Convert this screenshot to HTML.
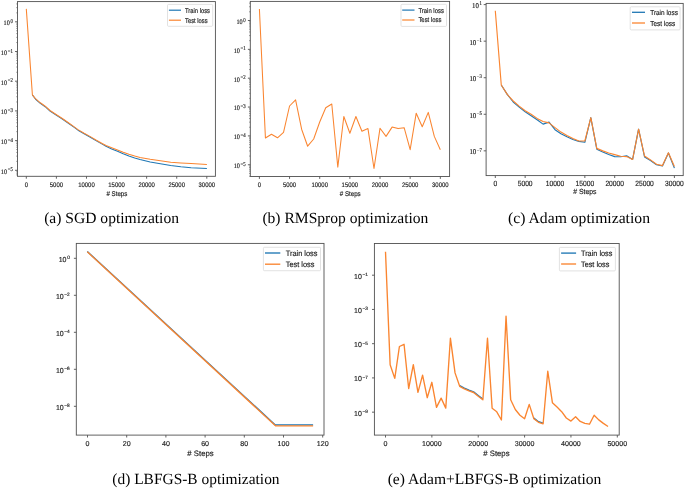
<!DOCTYPE html>
<html><head><meta charset="utf-8"><style>
html,body{margin:0;padding:0;background:#fff;width:685px;height:488px;overflow:hidden}
svg{display:block;will-change:transform;text-rendering:geometricPrecision}
</style></head><body>
<svg width="685" height="488" viewBox="0 0 685 488">
<rect width="685" height="488" fill="#fff"/>
<line x1="26.3" y1="176.3" x2="26.3" y2="178.7" stroke="#505050" stroke-width="0.9"/>
<text x="26.3" y="186.7" font-family="'Liberation Sans', sans-serif" font-size="6.6" text-anchor="middle" fill="#1a1a1a" textLength="3.3" lengthAdjust="spacingAndGlyphs" stroke="#1a1a1a" stroke-width="0.15">0</text>
<line x1="56.39" y1="176.3" x2="56.39" y2="178.7" stroke="#505050" stroke-width="0.9"/>
<text x="56.39" y="186.7" font-family="'Liberation Sans', sans-serif" font-size="6.6" text-anchor="middle" fill="#1a1a1a" textLength="13.21" lengthAdjust="spacingAndGlyphs" stroke="#1a1a1a" stroke-width="0.15">5000</text>
<line x1="86.47" y1="176.3" x2="86.47" y2="178.7" stroke="#505050" stroke-width="0.9"/>
<text x="86.47" y="186.7" font-family="'Liberation Sans', sans-serif" font-size="6.6" text-anchor="middle" fill="#1a1a1a" textLength="16.51" lengthAdjust="spacingAndGlyphs" stroke="#1a1a1a" stroke-width="0.15">10000</text>
<line x1="116.56" y1="176.3" x2="116.56" y2="178.7" stroke="#505050" stroke-width="0.9"/>
<text x="116.56" y="186.7" font-family="'Liberation Sans', sans-serif" font-size="6.6" text-anchor="middle" fill="#1a1a1a" textLength="16.51" lengthAdjust="spacingAndGlyphs" stroke="#1a1a1a" stroke-width="0.15">15000</text>
<line x1="146.64" y1="176.3" x2="146.64" y2="178.7" stroke="#505050" stroke-width="0.9"/>
<text x="146.64" y="186.7" font-family="'Liberation Sans', sans-serif" font-size="6.6" text-anchor="middle" fill="#1a1a1a" textLength="16.51" lengthAdjust="spacingAndGlyphs" stroke="#1a1a1a" stroke-width="0.15">20000</text>
<line x1="176.73" y1="176.3" x2="176.73" y2="178.7" stroke="#505050" stroke-width="0.9"/>
<text x="176.73" y="186.7" font-family="'Liberation Sans', sans-serif" font-size="6.6" text-anchor="middle" fill="#1a1a1a" textLength="16.51" lengthAdjust="spacingAndGlyphs" stroke="#1a1a1a" stroke-width="0.15">25000</text>
<line x1="206.81" y1="176.3" x2="206.81" y2="178.7" stroke="#505050" stroke-width="0.9"/>
<text x="206.81" y="186.7" font-family="'Liberation Sans', sans-serif" font-size="6.6" text-anchor="middle" fill="#1a1a1a" textLength="16.51" lengthAdjust="spacingAndGlyphs" stroke="#1a1a1a" stroke-width="0.15">30000</text>
<line x1="15.05" y1="21.8" x2="17.45" y2="21.8" stroke="#505050" stroke-width="0.9"/>
<text x="12.85" y="22.9" font-family="'Liberation Serif', serif" font-size="6" text-anchor="end" fill="#1a1a1a" stroke="#1a1a1a" stroke-width="0.15" textLength="2.4" lengthAdjust="spacingAndGlyphs">0</text>
<text x="9.75" y="25.1" font-family="'Liberation Serif', serif" font-size="6.9" text-anchor="end" fill="#1a1a1a" stroke="#1a1a1a" stroke-width="0.15" textLength="6.2" lengthAdjust="spacingAndGlyphs">10</text>
<line x1="15.05" y1="51.5" x2="17.45" y2="51.5" stroke="#505050" stroke-width="0.9"/>
<text x="12.85" y="52.6" font-family="'Liberation Serif', serif" font-size="6" text-anchor="end" fill="#1a1a1a" stroke="#1a1a1a" stroke-width="0.15" textLength="5.11" lengthAdjust="spacingAndGlyphs">&#8722;1</text>
<text x="7.04" y="54.8" font-family="'Liberation Serif', serif" font-size="6.9" text-anchor="end" fill="#1a1a1a" stroke="#1a1a1a" stroke-width="0.15" textLength="6.2" lengthAdjust="spacingAndGlyphs">10</text>
<line x1="15.05" y1="81.2" x2="17.45" y2="81.2" stroke="#505050" stroke-width="0.9"/>
<text x="12.85" y="82.3" font-family="'Liberation Serif', serif" font-size="6" text-anchor="end" fill="#1a1a1a" stroke="#1a1a1a" stroke-width="0.15" textLength="5.11" lengthAdjust="spacingAndGlyphs">&#8722;2</text>
<text x="7.04" y="84.5" font-family="'Liberation Serif', serif" font-size="6.9" text-anchor="end" fill="#1a1a1a" stroke="#1a1a1a" stroke-width="0.15" textLength="6.2" lengthAdjust="spacingAndGlyphs">10</text>
<line x1="15.05" y1="110.9" x2="17.45" y2="110.9" stroke="#505050" stroke-width="0.9"/>
<text x="12.85" y="112" font-family="'Liberation Serif', serif" font-size="6" text-anchor="end" fill="#1a1a1a" stroke="#1a1a1a" stroke-width="0.15" textLength="5.11" lengthAdjust="spacingAndGlyphs">&#8722;3</text>
<text x="7.04" y="114.2" font-family="'Liberation Serif', serif" font-size="6.9" text-anchor="end" fill="#1a1a1a" stroke="#1a1a1a" stroke-width="0.15" textLength="6.2" lengthAdjust="spacingAndGlyphs">10</text>
<line x1="15.05" y1="140.6" x2="17.45" y2="140.6" stroke="#505050" stroke-width="0.9"/>
<text x="12.85" y="141.7" font-family="'Liberation Serif', serif" font-size="6" text-anchor="end" fill="#1a1a1a" stroke="#1a1a1a" stroke-width="0.15" textLength="5.11" lengthAdjust="spacingAndGlyphs">&#8722;4</text>
<text x="7.04" y="143.9" font-family="'Liberation Serif', serif" font-size="6.9" text-anchor="end" fill="#1a1a1a" stroke="#1a1a1a" stroke-width="0.15" textLength="6.2" lengthAdjust="spacingAndGlyphs">10</text>
<line x1="15.05" y1="170.3" x2="17.45" y2="170.3" stroke="#505050" stroke-width="0.9"/>
<text x="12.85" y="171.4" font-family="'Liberation Serif', serif" font-size="6" text-anchor="end" fill="#1a1a1a" stroke="#1a1a1a" stroke-width="0.15" textLength="5.11" lengthAdjust="spacingAndGlyphs">&#8722;5</text>
<text x="7.04" y="173.6" font-family="'Liberation Serif', serif" font-size="6.9" text-anchor="end" fill="#1a1a1a" stroke="#1a1a1a" stroke-width="0.15" textLength="6.2" lengthAdjust="spacingAndGlyphs">10</text>
<line x1="16.25" y1="174.9" x2="17.45" y2="174.9" stroke="#505050" stroke-width="0.6"/>
<line x1="16.25" y1="173.18" x2="17.45" y2="173.18" stroke="#505050" stroke-width="0.6"/>
<line x1="16.25" y1="171.66" x2="17.45" y2="171.66" stroke="#505050" stroke-width="0.6"/>
<line x1="16.25" y1="161.36" x2="17.45" y2="161.36" stroke="#505050" stroke-width="0.6"/>
<line x1="16.25" y1="156.13" x2="17.45" y2="156.13" stroke="#505050" stroke-width="0.6"/>
<line x1="16.25" y1="152.42" x2="17.45" y2="152.42" stroke="#505050" stroke-width="0.6"/>
<line x1="16.25" y1="149.54" x2="17.45" y2="149.54" stroke="#505050" stroke-width="0.6"/>
<line x1="16.25" y1="147.19" x2="17.45" y2="147.19" stroke="#505050" stroke-width="0.6"/>
<line x1="16.25" y1="145.2" x2="17.45" y2="145.2" stroke="#505050" stroke-width="0.6"/>
<line x1="16.25" y1="143.48" x2="17.45" y2="143.48" stroke="#505050" stroke-width="0.6"/>
<line x1="16.25" y1="141.96" x2="17.45" y2="141.96" stroke="#505050" stroke-width="0.6"/>
<line x1="16.25" y1="131.66" x2="17.45" y2="131.66" stroke="#505050" stroke-width="0.6"/>
<line x1="16.25" y1="126.43" x2="17.45" y2="126.43" stroke="#505050" stroke-width="0.6"/>
<line x1="16.25" y1="122.72" x2="17.45" y2="122.72" stroke="#505050" stroke-width="0.6"/>
<line x1="16.25" y1="119.84" x2="17.45" y2="119.84" stroke="#505050" stroke-width="0.6"/>
<line x1="16.25" y1="117.49" x2="17.45" y2="117.49" stroke="#505050" stroke-width="0.6"/>
<line x1="16.25" y1="115.5" x2="17.45" y2="115.5" stroke="#505050" stroke-width="0.6"/>
<line x1="16.25" y1="113.78" x2="17.45" y2="113.78" stroke="#505050" stroke-width="0.6"/>
<line x1="16.25" y1="112.26" x2="17.45" y2="112.26" stroke="#505050" stroke-width="0.6"/>
<line x1="16.25" y1="101.96" x2="17.45" y2="101.96" stroke="#505050" stroke-width="0.6"/>
<line x1="16.25" y1="96.73" x2="17.45" y2="96.73" stroke="#505050" stroke-width="0.6"/>
<line x1="16.25" y1="93.02" x2="17.45" y2="93.02" stroke="#505050" stroke-width="0.6"/>
<line x1="16.25" y1="90.14" x2="17.45" y2="90.14" stroke="#505050" stroke-width="0.6"/>
<line x1="16.25" y1="87.79" x2="17.45" y2="87.79" stroke="#505050" stroke-width="0.6"/>
<line x1="16.25" y1="85.8" x2="17.45" y2="85.8" stroke="#505050" stroke-width="0.6"/>
<line x1="16.25" y1="84.08" x2="17.45" y2="84.08" stroke="#505050" stroke-width="0.6"/>
<line x1="16.25" y1="82.56" x2="17.45" y2="82.56" stroke="#505050" stroke-width="0.6"/>
<line x1="16.25" y1="72.26" x2="17.45" y2="72.26" stroke="#505050" stroke-width="0.6"/>
<line x1="16.25" y1="67.03" x2="17.45" y2="67.03" stroke="#505050" stroke-width="0.6"/>
<line x1="16.25" y1="63.32" x2="17.45" y2="63.32" stroke="#505050" stroke-width="0.6"/>
<line x1="16.25" y1="60.44" x2="17.45" y2="60.44" stroke="#505050" stroke-width="0.6"/>
<line x1="16.25" y1="58.09" x2="17.45" y2="58.09" stroke="#505050" stroke-width="0.6"/>
<line x1="16.25" y1="56.1" x2="17.45" y2="56.1" stroke="#505050" stroke-width="0.6"/>
<line x1="16.25" y1="54.38" x2="17.45" y2="54.38" stroke="#505050" stroke-width="0.6"/>
<line x1="16.25" y1="52.86" x2="17.45" y2="52.86" stroke="#505050" stroke-width="0.6"/>
<line x1="16.25" y1="42.56" x2="17.45" y2="42.56" stroke="#505050" stroke-width="0.6"/>
<line x1="16.25" y1="37.33" x2="17.45" y2="37.33" stroke="#505050" stroke-width="0.6"/>
<line x1="16.25" y1="33.62" x2="17.45" y2="33.62" stroke="#505050" stroke-width="0.6"/>
<line x1="16.25" y1="30.74" x2="17.45" y2="30.74" stroke="#505050" stroke-width="0.6"/>
<line x1="16.25" y1="28.39" x2="17.45" y2="28.39" stroke="#505050" stroke-width="0.6"/>
<line x1="16.25" y1="26.4" x2="17.45" y2="26.4" stroke="#505050" stroke-width="0.6"/>
<line x1="16.25" y1="24.68" x2="17.45" y2="24.68" stroke="#505050" stroke-width="0.6"/>
<line x1="16.25" y1="23.16" x2="17.45" y2="23.16" stroke="#505050" stroke-width="0.6"/>
<line x1="16.25" y1="12.86" x2="17.45" y2="12.86" stroke="#505050" stroke-width="0.6"/>
<line x1="16.25" y1="7.63" x2="17.45" y2="7.63" stroke="#505050" stroke-width="0.6"/>
<line x1="16.25" y1="3.92" x2="17.45" y2="3.92" stroke="#505050" stroke-width="0.6"/>
<polyline points="32.4,94.9 35.4,99 40.3,103.3 45.2,106.7 50,111 56.1,115 62.3,119 68.4,123.3 74.6,127.6 78,130.2 84.1,133.8 90.3,137.2 96.4,140.9 102.6,144.4 106,146.3 111.7,148.9 117.5,151.2 123.2,153.8 128.9,156.1 134.7,158.1 140,159.5 150.2,161.9 160.4,163.7 170.7,165.4 180.9,166.7 191.1,167.7 206.9,168.5" fill="none" stroke="#1f77b4" stroke-width="1.05" stroke-linejoin="round" stroke-linecap="butt"/>
<polyline points="26.3,8.9 32.4,94.9 35.4,98.6 40.3,102.8 45.2,106.2 50,110.5 56.1,114.5 62.3,118.5 68.4,122.8 74.6,127.1 78,129.6 84.1,133.2 90.3,136.6 96.4,140.3 102.6,143.7 106,145.5 111.7,147.7 117.5,150 123.2,152.3 128.9,154.3 134.7,156.1 140,157.4 150.2,159.3 160.4,160.8 170.7,162.2 180.9,162.9 191.1,163.6 206.9,164.4" fill="none" stroke="#fa8530" stroke-width="1.05" stroke-linejoin="round" stroke-linecap="butt"/>
<rect x="17.45" y="1.6" width="197.95" height="174.7" fill="none" stroke="#505050" stroke-width="0.9"/>
<rect x="167.5" y="4.4" width="45.2" height="21.9" rx="1" fill="#fff" fill-opacity="0.8" stroke="#d6d6d6" stroke-width="0.7"/>
<line x1="168.9" y1="10.2" x2="181" y2="10.2" stroke="#1f77b4" stroke-width="1.2"/>
<line x1="168.9" y1="20.2" x2="181" y2="20.2" stroke="#fa8530" stroke-width="1.2"/>
<text x="185" y="12.65" font-family="'Liberation Sans', sans-serif" font-size="6.8" text-anchor="start" fill="#1a1a1a" textLength="25" lengthAdjust="spacingAndGlyphs" stroke="#1a1a1a" stroke-width="0.15">Train loss</text>
<text x="185" y="22.65" font-family="'Liberation Sans', sans-serif" font-size="6.8" text-anchor="start" fill="#1a1a1a" textLength="22.63" lengthAdjust="spacingAndGlyphs" stroke="#1a1a1a" stroke-width="0.15">Test loss</text>
<text x="116.9" y="195.8" font-family="'Liberation Sans', sans-serif" font-size="6.9" text-anchor="middle" fill="#1a1a1a" textLength="20.9" lengthAdjust="spacingAndGlyphs" stroke="#1a1a1a" stroke-width="0.15"># Steps</text>
<text x="44.2" y="222.7" font-family="'Liberation Serif', serif" font-size="15.5" text-anchor="start" fill="#000" textLength="134.8" lengthAdjust="spacingAndGlyphs">(a) SGD optimization</text>
<line x1="259.4" y1="176.5" x2="259.4" y2="178.9" stroke="#505050" stroke-width="0.9"/>
<text x="259.4" y="186.7" font-family="'Liberation Sans', sans-serif" font-size="6.6" text-anchor="middle" fill="#1a1a1a" textLength="3.3" lengthAdjust="spacingAndGlyphs" stroke="#1a1a1a" stroke-width="0.15">0</text>
<line x1="289.55" y1="176.5" x2="289.55" y2="178.9" stroke="#505050" stroke-width="0.9"/>
<text x="289.55" y="186.7" font-family="'Liberation Sans', sans-serif" font-size="6.6" text-anchor="middle" fill="#1a1a1a" textLength="13.21" lengthAdjust="spacingAndGlyphs" stroke="#1a1a1a" stroke-width="0.15">5000</text>
<line x1="319.71" y1="176.5" x2="319.71" y2="178.9" stroke="#505050" stroke-width="0.9"/>
<text x="319.71" y="186.7" font-family="'Liberation Sans', sans-serif" font-size="6.6" text-anchor="middle" fill="#1a1a1a" textLength="16.51" lengthAdjust="spacingAndGlyphs" stroke="#1a1a1a" stroke-width="0.15">10000</text>
<line x1="349.87" y1="176.5" x2="349.87" y2="178.9" stroke="#505050" stroke-width="0.9"/>
<text x="349.87" y="186.7" font-family="'Liberation Sans', sans-serif" font-size="6.6" text-anchor="middle" fill="#1a1a1a" textLength="16.51" lengthAdjust="spacingAndGlyphs" stroke="#1a1a1a" stroke-width="0.15">15000</text>
<line x1="380.02" y1="176.5" x2="380.02" y2="178.9" stroke="#505050" stroke-width="0.9"/>
<text x="380.02" y="186.7" font-family="'Liberation Sans', sans-serif" font-size="6.6" text-anchor="middle" fill="#1a1a1a" textLength="16.51" lengthAdjust="spacingAndGlyphs" stroke="#1a1a1a" stroke-width="0.15">20000</text>
<line x1="410.17" y1="176.5" x2="410.17" y2="178.9" stroke="#505050" stroke-width="0.9"/>
<text x="410.17" y="186.7" font-family="'Liberation Sans', sans-serif" font-size="6.6" text-anchor="middle" fill="#1a1a1a" textLength="16.51" lengthAdjust="spacingAndGlyphs" stroke="#1a1a1a" stroke-width="0.15">25000</text>
<line x1="440.33" y1="176.5" x2="440.33" y2="178.9" stroke="#505050" stroke-width="0.9"/>
<text x="440.33" y="186.7" font-family="'Liberation Sans', sans-serif" font-size="6.6" text-anchor="middle" fill="#1a1a1a" textLength="16.51" lengthAdjust="spacingAndGlyphs" stroke="#1a1a1a" stroke-width="0.15">30000</text>
<line x1="247.9" y1="20.5" x2="250.3" y2="20.5" stroke="#505050" stroke-width="0.9"/>
<text x="245.7" y="21.6" font-family="'Liberation Serif', serif" font-size="6" text-anchor="end" fill="#1a1a1a" stroke="#1a1a1a" stroke-width="0.15" textLength="2.4" lengthAdjust="spacingAndGlyphs">0</text>
<text x="242.6" y="23.8" font-family="'Liberation Serif', serif" font-size="6.9" text-anchor="end" fill="#1a1a1a" stroke="#1a1a1a" stroke-width="0.15" textLength="6.2" lengthAdjust="spacingAndGlyphs">10</text>
<line x1="247.9" y1="49.35" x2="250.3" y2="49.35" stroke="#505050" stroke-width="0.9"/>
<text x="245.7" y="50.45" font-family="'Liberation Serif', serif" font-size="6" text-anchor="end" fill="#1a1a1a" stroke="#1a1a1a" stroke-width="0.15" textLength="5.11" lengthAdjust="spacingAndGlyphs">&#8722;1</text>
<text x="239.89" y="52.65" font-family="'Liberation Serif', serif" font-size="6.9" text-anchor="end" fill="#1a1a1a" stroke="#1a1a1a" stroke-width="0.15" textLength="6.2" lengthAdjust="spacingAndGlyphs">10</text>
<line x1="247.9" y1="78.2" x2="250.3" y2="78.2" stroke="#505050" stroke-width="0.9"/>
<text x="245.7" y="79.3" font-family="'Liberation Serif', serif" font-size="6" text-anchor="end" fill="#1a1a1a" stroke="#1a1a1a" stroke-width="0.15" textLength="5.11" lengthAdjust="spacingAndGlyphs">&#8722;2</text>
<text x="239.89" y="81.5" font-family="'Liberation Serif', serif" font-size="6.9" text-anchor="end" fill="#1a1a1a" stroke="#1a1a1a" stroke-width="0.15" textLength="6.2" lengthAdjust="spacingAndGlyphs">10</text>
<line x1="247.9" y1="107.05" x2="250.3" y2="107.05" stroke="#505050" stroke-width="0.9"/>
<text x="245.7" y="108.15" font-family="'Liberation Serif', serif" font-size="6" text-anchor="end" fill="#1a1a1a" stroke="#1a1a1a" stroke-width="0.15" textLength="5.11" lengthAdjust="spacingAndGlyphs">&#8722;3</text>
<text x="239.89" y="110.35" font-family="'Liberation Serif', serif" font-size="6.9" text-anchor="end" fill="#1a1a1a" stroke="#1a1a1a" stroke-width="0.15" textLength="6.2" lengthAdjust="spacingAndGlyphs">10</text>
<line x1="247.9" y1="135.9" x2="250.3" y2="135.9" stroke="#505050" stroke-width="0.9"/>
<text x="245.7" y="137" font-family="'Liberation Serif', serif" font-size="6" text-anchor="end" fill="#1a1a1a" stroke="#1a1a1a" stroke-width="0.15" textLength="5.11" lengthAdjust="spacingAndGlyphs">&#8722;4</text>
<text x="239.89" y="139.2" font-family="'Liberation Serif', serif" font-size="6.9" text-anchor="end" fill="#1a1a1a" stroke="#1a1a1a" stroke-width="0.15" textLength="6.2" lengthAdjust="spacingAndGlyphs">10</text>
<line x1="247.9" y1="164.75" x2="250.3" y2="164.75" stroke="#505050" stroke-width="0.9"/>
<text x="245.7" y="165.85" font-family="'Liberation Serif', serif" font-size="6" text-anchor="end" fill="#1a1a1a" stroke="#1a1a1a" stroke-width="0.15" textLength="5.11" lengthAdjust="spacingAndGlyphs">&#8722;5</text>
<text x="239.89" y="168.05" font-family="'Liberation Serif', serif" font-size="6.9" text-anchor="end" fill="#1a1a1a" stroke="#1a1a1a" stroke-width="0.15" textLength="6.2" lengthAdjust="spacingAndGlyphs">10</text>
<line x1="249.1" y1="176.23" x2="250.3" y2="176.23" stroke="#505050" stroke-width="0.6"/>
<line x1="249.1" y1="173.43" x2="250.3" y2="173.43" stroke="#505050" stroke-width="0.6"/>
<line x1="249.1" y1="171.15" x2="250.3" y2="171.15" stroke="#505050" stroke-width="0.6"/>
<line x1="249.1" y1="169.22" x2="250.3" y2="169.22" stroke="#505050" stroke-width="0.6"/>
<line x1="249.1" y1="167.55" x2="250.3" y2="167.55" stroke="#505050" stroke-width="0.6"/>
<line x1="249.1" y1="166.07" x2="250.3" y2="166.07" stroke="#505050" stroke-width="0.6"/>
<line x1="249.1" y1="156.07" x2="250.3" y2="156.07" stroke="#505050" stroke-width="0.6"/>
<line x1="249.1" y1="150.99" x2="250.3" y2="150.99" stroke="#505050" stroke-width="0.6"/>
<line x1="249.1" y1="147.38" x2="250.3" y2="147.38" stroke="#505050" stroke-width="0.6"/>
<line x1="249.1" y1="144.58" x2="250.3" y2="144.58" stroke="#505050" stroke-width="0.6"/>
<line x1="249.1" y1="142.3" x2="250.3" y2="142.3" stroke="#505050" stroke-width="0.6"/>
<line x1="249.1" y1="140.37" x2="250.3" y2="140.37" stroke="#505050" stroke-width="0.6"/>
<line x1="249.1" y1="138.7" x2="250.3" y2="138.7" stroke="#505050" stroke-width="0.6"/>
<line x1="249.1" y1="137.22" x2="250.3" y2="137.22" stroke="#505050" stroke-width="0.6"/>
<line x1="249.1" y1="127.22" x2="250.3" y2="127.22" stroke="#505050" stroke-width="0.6"/>
<line x1="249.1" y1="122.14" x2="250.3" y2="122.14" stroke="#505050" stroke-width="0.6"/>
<line x1="249.1" y1="118.53" x2="250.3" y2="118.53" stroke="#505050" stroke-width="0.6"/>
<line x1="249.1" y1="115.73" x2="250.3" y2="115.73" stroke="#505050" stroke-width="0.6"/>
<line x1="249.1" y1="113.45" x2="250.3" y2="113.45" stroke="#505050" stroke-width="0.6"/>
<line x1="249.1" y1="111.52" x2="250.3" y2="111.52" stroke="#505050" stroke-width="0.6"/>
<line x1="249.1" y1="109.85" x2="250.3" y2="109.85" stroke="#505050" stroke-width="0.6"/>
<line x1="249.1" y1="108.37" x2="250.3" y2="108.37" stroke="#505050" stroke-width="0.6"/>
<line x1="249.1" y1="98.37" x2="250.3" y2="98.37" stroke="#505050" stroke-width="0.6"/>
<line x1="249.1" y1="93.29" x2="250.3" y2="93.29" stroke="#505050" stroke-width="0.6"/>
<line x1="249.1" y1="89.68" x2="250.3" y2="89.68" stroke="#505050" stroke-width="0.6"/>
<line x1="249.1" y1="86.88" x2="250.3" y2="86.88" stroke="#505050" stroke-width="0.6"/>
<line x1="249.1" y1="84.6" x2="250.3" y2="84.6" stroke="#505050" stroke-width="0.6"/>
<line x1="249.1" y1="82.67" x2="250.3" y2="82.67" stroke="#505050" stroke-width="0.6"/>
<line x1="249.1" y1="81" x2="250.3" y2="81" stroke="#505050" stroke-width="0.6"/>
<line x1="249.1" y1="79.52" x2="250.3" y2="79.52" stroke="#505050" stroke-width="0.6"/>
<line x1="249.1" y1="69.52" x2="250.3" y2="69.52" stroke="#505050" stroke-width="0.6"/>
<line x1="249.1" y1="64.44" x2="250.3" y2="64.44" stroke="#505050" stroke-width="0.6"/>
<line x1="249.1" y1="60.83" x2="250.3" y2="60.83" stroke="#505050" stroke-width="0.6"/>
<line x1="249.1" y1="58.03" x2="250.3" y2="58.03" stroke="#505050" stroke-width="0.6"/>
<line x1="249.1" y1="55.75" x2="250.3" y2="55.75" stroke="#505050" stroke-width="0.6"/>
<line x1="249.1" y1="53.82" x2="250.3" y2="53.82" stroke="#505050" stroke-width="0.6"/>
<line x1="249.1" y1="52.15" x2="250.3" y2="52.15" stroke="#505050" stroke-width="0.6"/>
<line x1="249.1" y1="50.67" x2="250.3" y2="50.67" stroke="#505050" stroke-width="0.6"/>
<line x1="249.1" y1="40.67" x2="250.3" y2="40.67" stroke="#505050" stroke-width="0.6"/>
<line x1="249.1" y1="35.59" x2="250.3" y2="35.59" stroke="#505050" stroke-width="0.6"/>
<line x1="249.1" y1="31.98" x2="250.3" y2="31.98" stroke="#505050" stroke-width="0.6"/>
<line x1="249.1" y1="29.18" x2="250.3" y2="29.18" stroke="#505050" stroke-width="0.6"/>
<line x1="249.1" y1="26.9" x2="250.3" y2="26.9" stroke="#505050" stroke-width="0.6"/>
<line x1="249.1" y1="24.97" x2="250.3" y2="24.97" stroke="#505050" stroke-width="0.6"/>
<line x1="249.1" y1="23.3" x2="250.3" y2="23.3" stroke="#505050" stroke-width="0.6"/>
<line x1="249.1" y1="21.82" x2="250.3" y2="21.82" stroke="#505050" stroke-width="0.6"/>
<line x1="249.1" y1="11.82" x2="250.3" y2="11.82" stroke="#505050" stroke-width="0.6"/>
<line x1="249.1" y1="6.74" x2="250.3" y2="6.74" stroke="#505050" stroke-width="0.6"/>
<line x1="249.1" y1="3.13" x2="250.3" y2="3.13" stroke="#505050" stroke-width="0.6"/>
<polyline points="259.4,8.9 265.43,138 271.46,134.3 277.49,137.8 283.52,132.3 289.55,106 295.59,99.9 301.62,129.2 307.65,146.2 313.68,139 319.71,122 325.74,107.7 331.77,104 337.8,167.1 343.83,116.5 349.86,133.3 355.9,116.5 361.93,131.2 367.96,128.6 373.99,168.5 380.02,128.2 386.05,136.4 392.08,127.1 398.11,128.6 404.14,127.7 410.17,149.7 416.21,113.2 422.24,126.7 428.27,112.4 434.3,136.4 440.33,149.7" fill="none" stroke="#fa8530" stroke-width="1.05" stroke-linejoin="round" stroke-linecap="butt"/>
<rect x="250.3" y="1.4" width="199.3" height="175.1" fill="none" stroke="#505050" stroke-width="0.9"/>
<rect x="401" y="4.3" width="45.5" height="22.1" rx="1" fill="#fff" fill-opacity="0.8" stroke="#d6d6d6" stroke-width="0.7"/>
<line x1="402.2" y1="10.1" x2="414.5" y2="10.1" stroke="#1f77b4" stroke-width="1.2"/>
<line x1="402.2" y1="20" x2="414.5" y2="20" stroke="#fa8530" stroke-width="1.2"/>
<text x="418.4" y="12.55" font-family="'Liberation Sans', sans-serif" font-size="6.8" text-anchor="start" fill="#1a1a1a" textLength="25.5" lengthAdjust="spacingAndGlyphs" stroke="#1a1a1a" stroke-width="0.15">Train loss</text>
<text x="418.4" y="22.45" font-family="'Liberation Sans', sans-serif" font-size="6.8" text-anchor="start" fill="#1a1a1a" textLength="23.08" lengthAdjust="spacingAndGlyphs" stroke="#1a1a1a" stroke-width="0.15">Test loss</text>
<text x="350.2" y="195.9" font-family="'Liberation Sans', sans-serif" font-size="6.9" text-anchor="middle" fill="#1a1a1a" textLength="20.9" lengthAdjust="spacingAndGlyphs" stroke="#1a1a1a" stroke-width="0.15"># Steps</text>
<text x="262.4" y="222.8" font-family="'Liberation Serif', serif" font-size="15.5" text-anchor="start" fill="#000" textLength="166" lengthAdjust="spacingAndGlyphs">(b) RMSprop optimization</text>
<line x1="495.3" y1="175.6" x2="495.3" y2="178" stroke="#505050" stroke-width="0.9"/>
<text x="495.3" y="185.9" font-family="'Liberation Sans', sans-serif" font-size="7.6" text-anchor="middle" fill="#1a1a1a" textLength="3.72" lengthAdjust="spacingAndGlyphs" stroke="#1a1a1a" stroke-width="0.15">0</text>
<line x1="525.15" y1="175.6" x2="525.15" y2="178" stroke="#505050" stroke-width="0.9"/>
<text x="525.15" y="185.9" font-family="'Liberation Sans', sans-serif" font-size="7.6" text-anchor="middle" fill="#1a1a1a" textLength="14.87" lengthAdjust="spacingAndGlyphs" stroke="#1a1a1a" stroke-width="0.15">5000</text>
<line x1="555" y1="175.6" x2="555" y2="178" stroke="#505050" stroke-width="0.9"/>
<text x="555" y="185.9" font-family="'Liberation Sans', sans-serif" font-size="7.6" text-anchor="middle" fill="#1a1a1a" textLength="18.59" lengthAdjust="spacingAndGlyphs" stroke="#1a1a1a" stroke-width="0.15">10000</text>
<line x1="584.85" y1="175.6" x2="584.85" y2="178" stroke="#505050" stroke-width="0.9"/>
<text x="584.85" y="185.9" font-family="'Liberation Sans', sans-serif" font-size="7.6" text-anchor="middle" fill="#1a1a1a" textLength="18.59" lengthAdjust="spacingAndGlyphs" stroke="#1a1a1a" stroke-width="0.15">15000</text>
<line x1="614.7" y1="175.6" x2="614.7" y2="178" stroke="#505050" stroke-width="0.9"/>
<text x="614.7" y="185.9" font-family="'Liberation Sans', sans-serif" font-size="7.6" text-anchor="middle" fill="#1a1a1a" textLength="18.59" lengthAdjust="spacingAndGlyphs" stroke="#1a1a1a" stroke-width="0.15">20000</text>
<line x1="644.55" y1="175.6" x2="644.55" y2="178" stroke="#505050" stroke-width="0.9"/>
<text x="644.55" y="185.9" font-family="'Liberation Sans', sans-serif" font-size="7.6" text-anchor="middle" fill="#1a1a1a" textLength="18.59" lengthAdjust="spacingAndGlyphs" stroke="#1a1a1a" stroke-width="0.15">25000</text>
<line x1="674.4" y1="175.6" x2="674.4" y2="178" stroke="#505050" stroke-width="0.9"/>
<text x="674.4" y="185.9" font-family="'Liberation Sans', sans-serif" font-size="7.6" text-anchor="middle" fill="#1a1a1a" textLength="18.59" lengthAdjust="spacingAndGlyphs" stroke="#1a1a1a" stroke-width="0.15">30000</text>
<line x1="483.7" y1="4.6" x2="486.1" y2="4.6" stroke="#505050" stroke-width="0.9"/>
<text x="481.8" y="5.3" font-family="'Liberation Serif', serif" font-size="5.6" text-anchor="end" fill="#1a1a1a" stroke="#1a1a1a" stroke-width="0.15" textLength="2.38" lengthAdjust="spacingAndGlyphs">1</text>
<text x="478.92" y="8" font-family="'Liberation Serif', serif" font-size="7.4" text-anchor="end" fill="#1a1a1a" stroke="#1a1a1a" stroke-width="0.15" textLength="6.8" lengthAdjust="spacingAndGlyphs">10</text>
<line x1="483.7" y1="41.16" x2="486.1" y2="41.16" stroke="#505050" stroke-width="0.9"/>
<text x="481.8" y="41.86" font-family="'Liberation Serif', serif" font-size="5.6" text-anchor="end" fill="#1a1a1a" stroke="#1a1a1a" stroke-width="0.15" textLength="5.06" lengthAdjust="spacingAndGlyphs">&#8722;1</text>
<text x="476.24" y="44.56" font-family="'Liberation Serif', serif" font-size="7.4" text-anchor="end" fill="#1a1a1a" stroke="#1a1a1a" stroke-width="0.15" textLength="6.8" lengthAdjust="spacingAndGlyphs">10</text>
<line x1="483.7" y1="77.72" x2="486.1" y2="77.72" stroke="#505050" stroke-width="0.9"/>
<text x="481.8" y="78.42" font-family="'Liberation Serif', serif" font-size="5.6" text-anchor="end" fill="#1a1a1a" stroke="#1a1a1a" stroke-width="0.15" textLength="5.06" lengthAdjust="spacingAndGlyphs">&#8722;3</text>
<text x="476.24" y="81.12" font-family="'Liberation Serif', serif" font-size="7.4" text-anchor="end" fill="#1a1a1a" stroke="#1a1a1a" stroke-width="0.15" textLength="6.8" lengthAdjust="spacingAndGlyphs">10</text>
<line x1="483.7" y1="114.28" x2="486.1" y2="114.28" stroke="#505050" stroke-width="0.9"/>
<text x="481.8" y="114.98" font-family="'Liberation Serif', serif" font-size="5.6" text-anchor="end" fill="#1a1a1a" stroke="#1a1a1a" stroke-width="0.15" textLength="5.06" lengthAdjust="spacingAndGlyphs">&#8722;5</text>
<text x="476.24" y="117.68" font-family="'Liberation Serif', serif" font-size="7.4" text-anchor="end" fill="#1a1a1a" stroke="#1a1a1a" stroke-width="0.15" textLength="6.8" lengthAdjust="spacingAndGlyphs">10</text>
<line x1="483.7" y1="150.84" x2="486.1" y2="150.84" stroke="#505050" stroke-width="0.9"/>
<text x="481.8" y="151.54" font-family="'Liberation Serif', serif" font-size="5.6" text-anchor="end" fill="#1a1a1a" stroke="#1a1a1a" stroke-width="0.15" textLength="5.06" lengthAdjust="spacingAndGlyphs">&#8722;7</text>
<text x="476.24" y="154.24" font-family="'Liberation Serif', serif" font-size="7.4" text-anchor="end" fill="#1a1a1a" stroke="#1a1a1a" stroke-width="0.15" textLength="6.8" lengthAdjust="spacingAndGlyphs">10</text>
<polyline points="501.27,85 507.24,94.4 513.21,102 519.18,107.1 525.15,111.8 531.12,115.7 537.09,119.8 543.06,124.1 549.03,122.1 555,129.7 560.97,133.8 566.94,136.8 572.91,139.5 578.88,141.4 584.85,142.3 590.82,117.7 596.79,149.2 602.76,152 608.73,154.5 614.7,156.6 620.67,156.8 626.64,155.8 632.61,159.4 638.58,129.2 644.55,157 650.52,160.5 656.49,164.8 662.46,166 668.43,153 674.4,168.1" fill="none" stroke="#1f77b4" stroke-width="1.15" stroke-linejoin="round" stroke-linecap="butt"/>
<polyline points="495.3,10.8 501.27,85 507.24,94.4 513.21,101 519.18,106.1 525.15,110.8 531.12,114.3 537.09,118.4 543.06,121.5 549.03,122.9 555,127.6 560.97,132.1 566.94,135.4 572.91,138.5 578.88,141 584.85,141 590.82,117.7 596.79,148.4 602.76,150.9 608.73,153 614.7,154.6 620.67,156.3 626.64,156.6 632.61,159.4 638.58,129.2 644.55,156.1 650.52,159.9 656.49,164.3 662.46,165.6 668.43,152.8 674.4,166.4" fill="none" stroke="#fa8530" stroke-width="1.15" stroke-linejoin="round" stroke-linecap="butt"/>
<rect x="486.1" y="3.4" width="197.1" height="172.2" fill="none" stroke="#505050" stroke-width="0.9"/>
<rect x="630.2" y="6.8" width="49.9" height="23.1" rx="1" fill="#fff" fill-opacity="0.8" stroke="#d6d6d6" stroke-width="0.7"/>
<line x1="632" y1="12.3" x2="645" y2="12.3" stroke="#1f77b4" stroke-width="1.3"/>
<line x1="632" y1="23" x2="645" y2="23" stroke="#fa8530" stroke-width="1.3"/>
<text x="650.2" y="14.89" font-family="'Liberation Sans', sans-serif" font-size="7.2" text-anchor="start" fill="#1a1a1a" textLength="27.7" lengthAdjust="spacingAndGlyphs" stroke="#1a1a1a" stroke-width="0.15">Train loss</text>
<text x="650.2" y="25.59" font-family="'Liberation Sans', sans-serif" font-size="7.2" text-anchor="start" fill="#1a1a1a" textLength="25.08" lengthAdjust="spacingAndGlyphs" stroke="#1a1a1a" stroke-width="0.15">Test loss</text>
<text x="584.9" y="194.4" font-family="'Liberation Sans', sans-serif" font-size="7.4" text-anchor="middle" fill="#1a1a1a" textLength="23.2" lengthAdjust="spacingAndGlyphs" stroke="#1a1a1a" stroke-width="0.15"># Steps</text>
<text x="508.1" y="222.8" font-family="'Liberation Serif', serif" font-size="15.5" text-anchor="start" fill="#000" textLength="141.9" lengthAdjust="spacingAndGlyphs">(c) Adam optimization</text>
<line x1="87.5" y1="435.1" x2="87.5" y2="437.5" stroke="#505050" stroke-width="0.9"/>
<text x="87.5" y="446.2" font-family="'Liberation Sans', sans-serif" font-size="7.1" text-anchor="middle" fill="#1a1a1a" textLength="3.95" lengthAdjust="spacingAndGlyphs" stroke="#1a1a1a" stroke-width="0.15">0</text>
<line x1="126.7" y1="435.1" x2="126.7" y2="437.5" stroke="#505050" stroke-width="0.9"/>
<text x="126.7" y="446.2" font-family="'Liberation Sans', sans-serif" font-size="7.1" text-anchor="middle" fill="#1a1a1a" textLength="7.9" lengthAdjust="spacingAndGlyphs" stroke="#1a1a1a" stroke-width="0.15">20</text>
<line x1="165.9" y1="435.1" x2="165.9" y2="437.5" stroke="#505050" stroke-width="0.9"/>
<text x="165.9" y="446.2" font-family="'Liberation Sans', sans-serif" font-size="7.1" text-anchor="middle" fill="#1a1a1a" textLength="7.9" lengthAdjust="spacingAndGlyphs" stroke="#1a1a1a" stroke-width="0.15">40</text>
<line x1="205.1" y1="435.1" x2="205.1" y2="437.5" stroke="#505050" stroke-width="0.9"/>
<text x="205.1" y="446.2" font-family="'Liberation Sans', sans-serif" font-size="7.1" text-anchor="middle" fill="#1a1a1a" textLength="7.9" lengthAdjust="spacingAndGlyphs" stroke="#1a1a1a" stroke-width="0.15">60</text>
<line x1="244.3" y1="435.1" x2="244.3" y2="437.5" stroke="#505050" stroke-width="0.9"/>
<text x="244.3" y="446.2" font-family="'Liberation Sans', sans-serif" font-size="7.1" text-anchor="middle" fill="#1a1a1a" textLength="7.9" lengthAdjust="spacingAndGlyphs" stroke="#1a1a1a" stroke-width="0.15">80</text>
<line x1="283.5" y1="435.1" x2="283.5" y2="437.5" stroke="#505050" stroke-width="0.9"/>
<text x="283.5" y="446.2" font-family="'Liberation Sans', sans-serif" font-size="7.1" text-anchor="middle" fill="#1a1a1a" textLength="11.84" lengthAdjust="spacingAndGlyphs" stroke="#1a1a1a" stroke-width="0.15">100</text>
<line x1="322.7" y1="435.1" x2="322.7" y2="437.5" stroke="#505050" stroke-width="0.9"/>
<text x="322.7" y="446.2" font-family="'Liberation Sans', sans-serif" font-size="7.1" text-anchor="middle" fill="#1a1a1a" textLength="11.84" lengthAdjust="spacingAndGlyphs" stroke="#1a1a1a" stroke-width="0.15">120</text>
<line x1="73.9" y1="258.3" x2="76.3" y2="258.3" stroke="#505050" stroke-width="0.9"/>
<text x="69.8" y="259.2" font-family="'Liberation Sans', sans-serif" font-size="4.8" text-anchor="end" fill="#1a1a1a" stroke="#1a1a1a" stroke-width="0.15" textLength="2.67" lengthAdjust="spacingAndGlyphs">0</text>
<text x="66.53" y="261.8" font-family="'Liberation Sans', sans-serif" font-size="7.3" text-anchor="end" fill="#1a1a1a" stroke="#1a1a1a" stroke-width="0.15" textLength="7.8" lengthAdjust="spacingAndGlyphs">10</text>
<line x1="73.9" y1="295.3" x2="76.3" y2="295.3" stroke="#505050" stroke-width="0.9"/>
<text x="69.8" y="296.2" font-family="'Liberation Sans', sans-serif" font-size="4.8" text-anchor="end" fill="#1a1a1a" stroke="#1a1a1a" stroke-width="0.15" textLength="5.47" lengthAdjust="spacingAndGlyphs">&#8722;2</text>
<text x="63.73" y="298.8" font-family="'Liberation Sans', sans-serif" font-size="7.3" text-anchor="end" fill="#1a1a1a" stroke="#1a1a1a" stroke-width="0.15" textLength="7.8" lengthAdjust="spacingAndGlyphs">10</text>
<line x1="73.9" y1="332.3" x2="76.3" y2="332.3" stroke="#505050" stroke-width="0.9"/>
<text x="69.8" y="333.2" font-family="'Liberation Sans', sans-serif" font-size="4.8" text-anchor="end" fill="#1a1a1a" stroke="#1a1a1a" stroke-width="0.15" textLength="5.47" lengthAdjust="spacingAndGlyphs">&#8722;4</text>
<text x="63.73" y="335.8" font-family="'Liberation Sans', sans-serif" font-size="7.3" text-anchor="end" fill="#1a1a1a" stroke="#1a1a1a" stroke-width="0.15" textLength="7.8" lengthAdjust="spacingAndGlyphs">10</text>
<line x1="73.9" y1="369.3" x2="76.3" y2="369.3" stroke="#505050" stroke-width="0.9"/>
<text x="69.8" y="370.2" font-family="'Liberation Sans', sans-serif" font-size="4.8" text-anchor="end" fill="#1a1a1a" stroke="#1a1a1a" stroke-width="0.15" textLength="5.47" lengthAdjust="spacingAndGlyphs">&#8722;6</text>
<text x="63.73" y="372.8" font-family="'Liberation Sans', sans-serif" font-size="7.3" text-anchor="end" fill="#1a1a1a" stroke="#1a1a1a" stroke-width="0.15" textLength="7.8" lengthAdjust="spacingAndGlyphs">10</text>
<line x1="73.9" y1="406.3" x2="76.3" y2="406.3" stroke="#505050" stroke-width="0.9"/>
<text x="69.8" y="407.2" font-family="'Liberation Sans', sans-serif" font-size="4.8" text-anchor="end" fill="#1a1a1a" stroke="#1a1a1a" stroke-width="0.15" textLength="5.47" lengthAdjust="spacingAndGlyphs">&#8722;8</text>
<text x="63.73" y="409.8" font-family="'Liberation Sans', sans-serif" font-size="7.3" text-anchor="end" fill="#1a1a1a" stroke="#1a1a1a" stroke-width="0.15" textLength="7.8" lengthAdjust="spacingAndGlyphs">10</text>
<polyline points="87.3,251.5 275.3,424.9 313.1,424.9" fill="none" stroke="#1f77b4" stroke-width="1.35" stroke-linejoin="round" stroke-linecap="butt"/>
<polyline points="87.3,251.8 275.5,425.8 313.1,425.8" fill="none" stroke="#fa8530" stroke-width="1.35" stroke-linejoin="round" stroke-linecap="butt"/>
<rect x="76.3" y="243.4" width="247.7" height="191.7" fill="none" stroke="#505050" stroke-width="0.9"/>
<rect x="263.4" y="247.3" width="57.1" height="23.4" rx="1" fill="#fff" fill-opacity="0.8" stroke="#d6d6d6" stroke-width="0.7"/>
<line x1="265" y1="253" x2="280.3" y2="253" stroke="#1f77b4" stroke-width="1.35"/>
<line x1="265" y1="264.2" x2="280.3" y2="264.2" stroke="#fa8530" stroke-width="1.35"/>
<text x="285.7" y="255.81" font-family="'Liberation Sans', sans-serif" font-size="7.8" text-anchor="start" fill="#1a1a1a" textLength="31.8" lengthAdjust="spacingAndGlyphs" stroke="#1a1a1a" stroke-width="0.15">Train loss</text>
<text x="285.7" y="267.01" font-family="'Liberation Sans', sans-serif" font-size="7.8" text-anchor="start" fill="#1a1a1a" textLength="28.79" lengthAdjust="spacingAndGlyphs" stroke="#1a1a1a" stroke-width="0.15">Test loss</text>
<text x="200.5" y="456.3" font-family="'Liberation Sans', sans-serif" font-size="7.8" text-anchor="middle" fill="#1a1a1a" textLength="26.3" lengthAdjust="spacingAndGlyphs" stroke="#1a1a1a" stroke-width="0.15"># Steps</text>
<text x="112.3" y="484" font-family="'Liberation Serif', serif" font-size="15.5" text-anchor="start" fill="#000" textLength="167.3" lengthAdjust="spacingAndGlyphs">(d) LBFGS-B optimization</text>
<line x1="385.5" y1="435.1" x2="385.5" y2="437.5" stroke="#505050" stroke-width="0.9"/>
<text x="385.5" y="446" font-family="'Liberation Sans', sans-serif" font-size="7.1" text-anchor="middle" fill="#1a1a1a" textLength="3.95" lengthAdjust="spacingAndGlyphs" stroke="#1a1a1a" stroke-width="0.15">0</text>
<line x1="431.86" y1="435.1" x2="431.86" y2="437.5" stroke="#505050" stroke-width="0.9"/>
<text x="431.86" y="446" font-family="'Liberation Sans', sans-serif" font-size="7.1" text-anchor="middle" fill="#1a1a1a" textLength="19.74" lengthAdjust="spacingAndGlyphs" stroke="#1a1a1a" stroke-width="0.15">10000</text>
<line x1="478.22" y1="435.1" x2="478.22" y2="437.5" stroke="#505050" stroke-width="0.9"/>
<text x="478.22" y="446" font-family="'Liberation Sans', sans-serif" font-size="7.1" text-anchor="middle" fill="#1a1a1a" textLength="19.74" lengthAdjust="spacingAndGlyphs" stroke="#1a1a1a" stroke-width="0.15">20000</text>
<line x1="524.58" y1="435.1" x2="524.58" y2="437.5" stroke="#505050" stroke-width="0.9"/>
<text x="524.58" y="446" font-family="'Liberation Sans', sans-serif" font-size="7.1" text-anchor="middle" fill="#1a1a1a" textLength="19.74" lengthAdjust="spacingAndGlyphs" stroke="#1a1a1a" stroke-width="0.15">30000</text>
<line x1="570.94" y1="435.1" x2="570.94" y2="437.5" stroke="#505050" stroke-width="0.9"/>
<text x="570.94" y="446" font-family="'Liberation Sans', sans-serif" font-size="7.1" text-anchor="middle" fill="#1a1a1a" textLength="19.74" lengthAdjust="spacingAndGlyphs" stroke="#1a1a1a" stroke-width="0.15">40000</text>
<line x1="617.3" y1="435.1" x2="617.3" y2="437.5" stroke="#505050" stroke-width="0.9"/>
<text x="617.3" y="446" font-family="'Liberation Sans', sans-serif" font-size="7.1" text-anchor="middle" fill="#1a1a1a" textLength="19.74" lengthAdjust="spacingAndGlyphs" stroke="#1a1a1a" stroke-width="0.15">50000</text>
<line x1="372" y1="275.2" x2="374.4" y2="275.2" stroke="#505050" stroke-width="0.9"/>
<text x="367.9" y="276.1" font-family="'Liberation Sans', sans-serif" font-size="4.8" text-anchor="end" fill="#1a1a1a" stroke="#1a1a1a" stroke-width="0.15" textLength="5.47" lengthAdjust="spacingAndGlyphs">&#8722;1</text>
<text x="361.83" y="278.7" font-family="'Liberation Sans', sans-serif" font-size="7.3" text-anchor="end" fill="#1a1a1a" stroke="#1a1a1a" stroke-width="0.15" textLength="7.8" lengthAdjust="spacingAndGlyphs">10</text>
<line x1="372" y1="309.44" x2="374.4" y2="309.44" stroke="#505050" stroke-width="0.9"/>
<text x="367.9" y="310.34" font-family="'Liberation Sans', sans-serif" font-size="4.8" text-anchor="end" fill="#1a1a1a" stroke="#1a1a1a" stroke-width="0.15" textLength="5.47" lengthAdjust="spacingAndGlyphs">&#8722;3</text>
<text x="361.83" y="312.94" font-family="'Liberation Sans', sans-serif" font-size="7.3" text-anchor="end" fill="#1a1a1a" stroke="#1a1a1a" stroke-width="0.15" textLength="7.8" lengthAdjust="spacingAndGlyphs">10</text>
<line x1="372" y1="343.68" x2="374.4" y2="343.68" stroke="#505050" stroke-width="0.9"/>
<text x="367.9" y="344.58" font-family="'Liberation Sans', sans-serif" font-size="4.8" text-anchor="end" fill="#1a1a1a" stroke="#1a1a1a" stroke-width="0.15" textLength="5.47" lengthAdjust="spacingAndGlyphs">&#8722;5</text>
<text x="361.83" y="347.18" font-family="'Liberation Sans', sans-serif" font-size="7.3" text-anchor="end" fill="#1a1a1a" stroke="#1a1a1a" stroke-width="0.15" textLength="7.8" lengthAdjust="spacingAndGlyphs">10</text>
<line x1="372" y1="377.92" x2="374.4" y2="377.92" stroke="#505050" stroke-width="0.9"/>
<text x="367.9" y="378.82" font-family="'Liberation Sans', sans-serif" font-size="4.8" text-anchor="end" fill="#1a1a1a" stroke="#1a1a1a" stroke-width="0.15" textLength="5.47" lengthAdjust="spacingAndGlyphs">&#8722;7</text>
<text x="361.83" y="381.42" font-family="'Liberation Sans', sans-serif" font-size="7.3" text-anchor="end" fill="#1a1a1a" stroke="#1a1a1a" stroke-width="0.15" textLength="7.8" lengthAdjust="spacingAndGlyphs">10</text>
<line x1="372" y1="412.16" x2="374.4" y2="412.16" stroke="#505050" stroke-width="0.9"/>
<text x="367.9" y="413.06" font-family="'Liberation Sans', sans-serif" font-size="4.8" text-anchor="end" fill="#1a1a1a" stroke="#1a1a1a" stroke-width="0.15" textLength="5.47" lengthAdjust="spacingAndGlyphs">&#8722;9</text>
<text x="361.83" y="415.66" font-family="'Liberation Sans', sans-serif" font-size="7.3" text-anchor="end" fill="#1a1a1a" stroke="#1a1a1a" stroke-width="0.15" textLength="7.8" lengthAdjust="spacingAndGlyphs">10</text>
<polyline points="459.68,385.6 464.31,388.1 468.95,390.1 473.58,391.8 478.22,395.5 482.86,399.1" fill="none" stroke="#1f77b4" stroke-width="1.35" stroke-linejoin="round" stroke-linecap="butt"/>
<polyline points="533.85,418.1 538.49,421.7 543.12,423.2" fill="none" stroke="#1f77b4" stroke-width="1.35" stroke-linejoin="round" stroke-linecap="butt"/>
<polyline points="385.5,251.8 390.14,364.7 394.77,378.4 399.41,346.5 404.04,344.3 408.68,388.5 413.32,364.7 417.95,392.4 422.59,375.1 427.22,397.7 431.86,382.3 436.5,407.4 441.13,398.1 445.77,408.1 450.4,338.2 455.04,372.9 459.68,386.3 464.31,388.8 468.95,390.8 473.58,392.5 478.22,396.2 482.86,399.8 487.49,338.2 492.13,408.3 496.76,411.8 501.4,420 506.04,316.1 510.67,399.7 515.31,409.5 519.94,415.2 524.58,418.7 529.22,404.4 533.85,418.7 538.49,422.3 543.12,423.8 547.76,371.2 552.4,402.7 557.03,407 561.67,411.7 566.3,418 570.94,421.1 575.58,416.8 580.21,421.4 584.85,423.4 589.48,424.2 594.12,415.2 598.76,419.9 603.39,423.4 608.03,426.5" fill="none" stroke="#fa8530" stroke-width="1.35" stroke-linejoin="round" stroke-linecap="butt"/>
<rect x="374.4" y="243.5" width="244.8" height="191.6" fill="none" stroke="#505050" stroke-width="0.9"/>
<rect x="559.4" y="247.4" width="56" height="23.5" rx="1" fill="#fff" fill-opacity="0.8" stroke="#d6d6d6" stroke-width="0.7"/>
<line x1="561.1" y1="253.1" x2="576.1" y2="253.1" stroke="#1f77b4" stroke-width="1.35"/>
<line x1="561.1" y1="264" x2="576.1" y2="264" stroke="#fa8530" stroke-width="1.35"/>
<text x="581" y="255.91" font-family="'Liberation Sans', sans-serif" font-size="7.8" text-anchor="start" fill="#1a1a1a" textLength="31.4" lengthAdjust="spacingAndGlyphs" stroke="#1a1a1a" stroke-width="0.15">Train loss</text>
<text x="581" y="266.81" font-family="'Liberation Sans', sans-serif" font-size="7.8" text-anchor="start" fill="#1a1a1a" textLength="28.43" lengthAdjust="spacingAndGlyphs" stroke="#1a1a1a" stroke-width="0.15">Test loss</text>
<text x="496.4" y="456.3" font-family="'Liberation Sans', sans-serif" font-size="7.8" text-anchor="middle" fill="#1a1a1a" textLength="26.3" lengthAdjust="spacingAndGlyphs" stroke="#1a1a1a" stroke-width="0.15"># Steps</text>
<text x="387.7" y="483.8" font-family="'Liberation Serif', serif" font-size="15.5" text-anchor="start" fill="#000" textLength="213.7" lengthAdjust="spacingAndGlyphs">(e) Adam+LBFGS-B optimization</text>
</svg>
</body></html>
